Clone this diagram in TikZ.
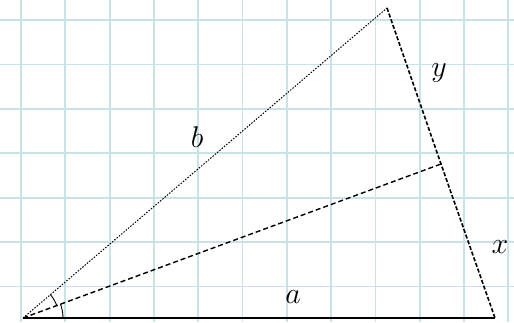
\RequirePackage{fix-cm}
\documentclass[tikz,border=0pt]{standalone}
\definecolor{gridblue}{RGB}{200,226,232}
\begin{document}
\begin{tikzpicture}[x=1pt,y=-1pt,
  gridline/.style={draw=gridblue,line width=1.8pt},
  sidesolid/.style={draw=black,line width=1.5pt},
  sidedotted/.style={draw=black,line width=1pt,dash pattern=on 1.5pt off 1.5pt},
  sidedashed/.style={draw=black,line width=1.6pt,dash pattern=on 4pt off 2pt},
  bisect/.style={draw=black,line width=1.4pt,dash pattern=on 5pt off 3pt},
  anglemark/.style={draw=black,line width=0.9pt},
  lbl/.style={font=\fontsize{30}{34}\selectfont, inner sep=0pt}]
\useasboundingbox (0,0) rectangle (514,322);
\fill[white] (0,0) rectangle (514,322);
\foreach \k in {0,...,11} {\draw[gridline] ({21+44.3*\k},0) -- ({21+44.3*\k},322);}
\foreach \k in {0,...,6} {\draw[gridline] (0,{20+44.4*\k}) -- (514,{20+44.4*\k});}
\coordinate (A) at (23,318);
\coordinate (C) at (495,318);
\coordinate (T) at (387,8);
\coordinate (D) at (441,164);
\draw[sidesolid] (A) -- (C);
\draw[sidedotted] (A) -- (T);
\draw[sidedashed] (T) -- (D) -- (C);
\draw[bisect] (A) -- (D);
\draw[anglemark] ([shift={(0:40)}]A) arc[start angle=0,end angle=-20.3,radius=40];
\draw[anglemark] ([shift={(-20.3:36)}]A) arc[start angle=-20.3,end angle=-40.4,radius=36];
\node[lbl] (lb) at (197,137) {$b$};
\node[lbl] (la) at (293,297) {$a$};
\node[lbl] (ly) at (439,73) {$y$};
\node[lbl] (lx) at (500,247) {$x$};
\end{tikzpicture}
\end{document}
